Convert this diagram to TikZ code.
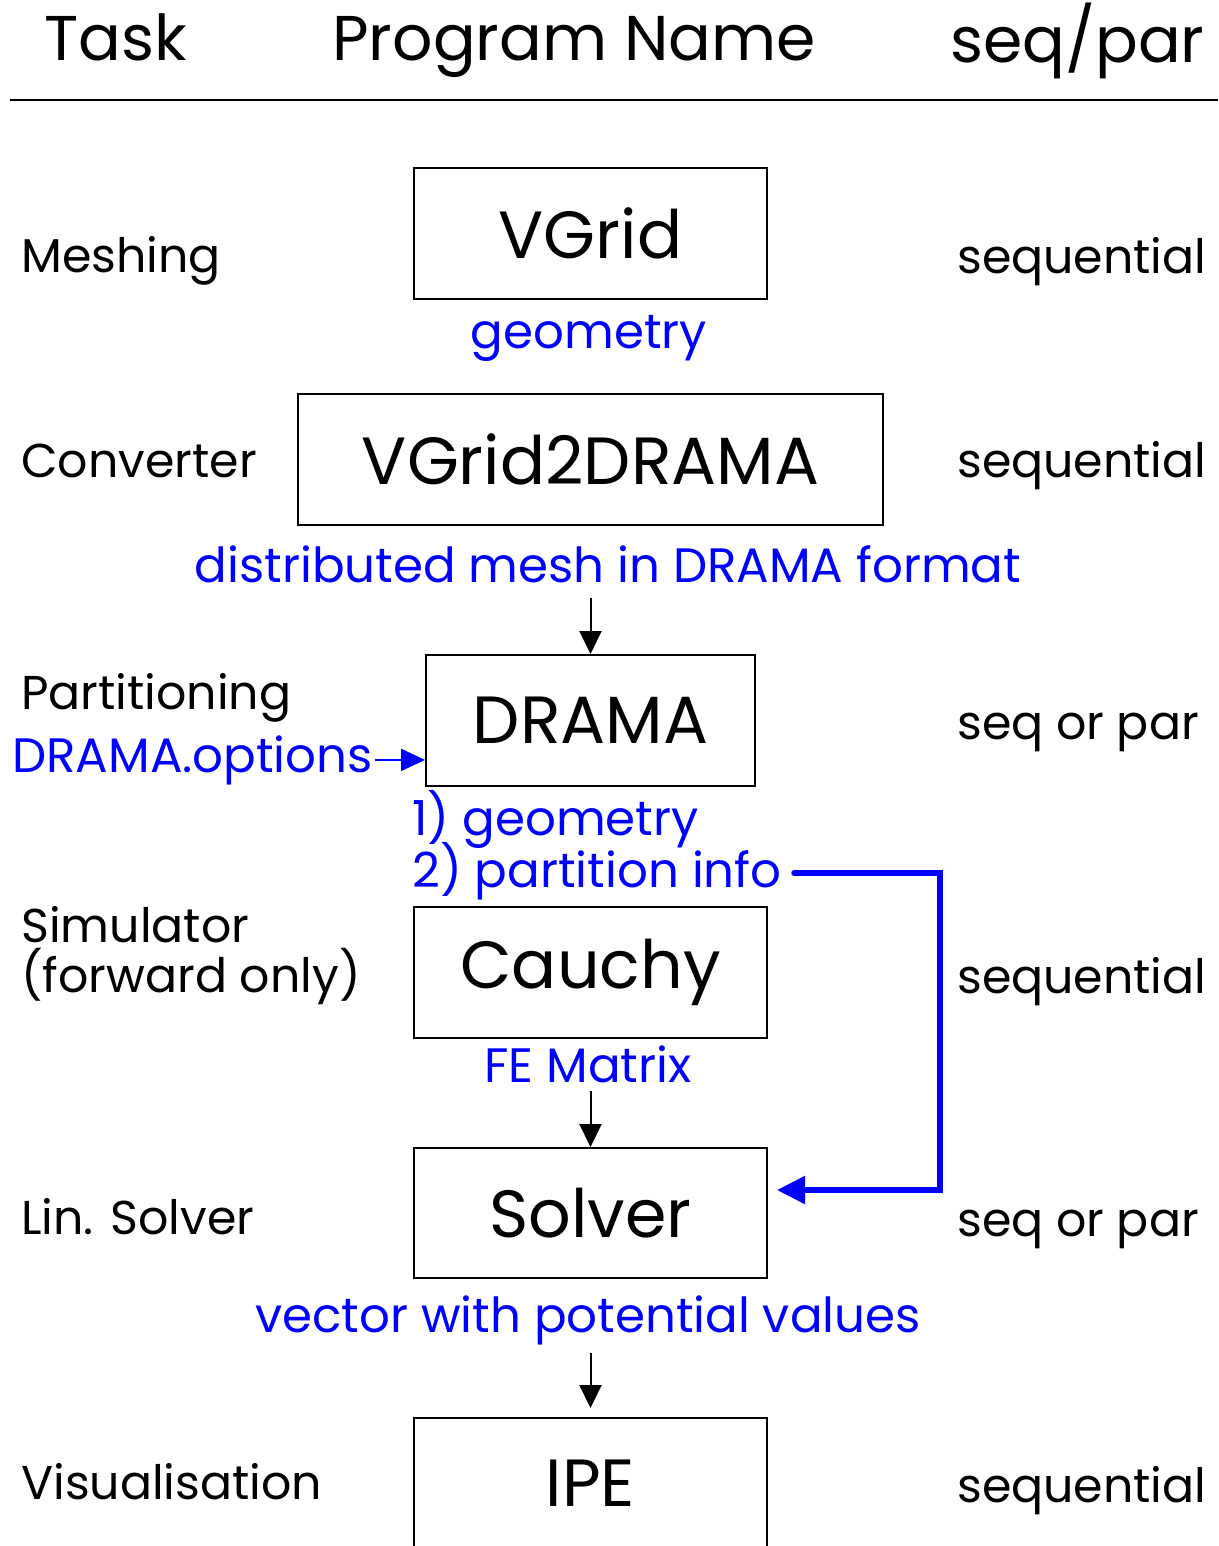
\documentclass[tikz,border=0pt]{standalone}
\usepackage{fontspec}
\setmainfont{Poppins}
\usepackage{tikz}
\usetikzlibrary{positioning,arrows.meta,calc}
\definecolor{flowblue}{HTML}{0000FF}
\definecolor{flowink}{HTML}{000000}

\tikzset{
  prog/.style={draw=flowink,line width=0.04cm,minimum height=2.62cm,inner sep=0,font=\fontsize{38}{44}\selectfont},
  task/.style={anchor=base west,inner sep=0,font=\fontsize{27}{32}\selectfont},
  head/.style={anchor=base west,inner sep=0,font=\fontsize{36}{42}\selectfont},
  data/.style={text=flowblue,anchor=base,inner sep=0,font=\fontsize{27.5}{33}\selectfont},
  flow/.style={-{Triangle[length=0.46cm,width=0.44cm]},line width=0.04cm},
  feed/.style={flowblue,line width=0.11cm,line cap=round,-{Triangle[length=0.56cm,width=0.54cm]}},
}

\begin{document}
\begin{tikzpicture}[x=0.02cm,y=-0.02cm]
  \useasboundingbox (0,0) rectangle (1218,1546);
  % header
  \node[head] (h-task) at (44,60) {Task};
  \node[head] (h-prog) at (332,60) {Program Name};
  \node[head] (h-mode) at (950,62) {seq/par};
  \draw[line width=0.04cm] (10,100) -- (1218,100);
  % tasks and seq/par column
  \foreach \n/\y/\lab in {mesh/272/Meshing, conv/477/Converter, part/709/Partitioning,
      sim/942/Simulator, fwd/992/{(forward only)}, lin/1234/{Lin. Solver}, vis/1499/Visualisation}
    {\node[task] (task-\n) at (21,\y) {\lab};}
  \foreach \n/\y/\lab in {mesh/273/sequential, conv/477/sequential, part/739/{seq or par},
      sim/993/sequential, lin/1236/{seq or par}, vis/1502/sequential}
    {\node[task] (mode-\n) at (957,\y) {\lab};}
  % programs
  \node[prog,minimum width=7.06cm] (vgrid) at (590.5,233.5) {VGrid};
  \node[prog,minimum width=11.7cm] (conv) at (590.5,459.5) {VGrid2DRAMA};
  \node[prog,minimum width=6.58cm] (drama) at (590.5,720.5) {DRAMA};
  \node[prog,minimum width=7.06cm] (cauchy) at (590.5,972.5) {Cauchy};
  \node[prog,minimum width=7.06cm,minimum height=2.6cm] (solver) at (590.5,1213) {Solver};
  \node[prog,minimum width=7.06cm] (ipe) at (590.5,1483.5) {IPE};
  % data passed between programs
  \node[data] (d-geom) at (589,348) {geometry};
  \node[data] (d-mesh) at (608,582) {distributed mesh in DRAMA format};
  \node[data,anchor=base west] (d-opts) at (12,772) {DRAMA.options};
  \node[data,anchor=base west] (d-geo1) at (412,835) {1) geometry};
  \node[data,anchor=base west] (d-pinfo) at (412,887) {2) partition info};
  \node[data] (d-fem) at (588,1082) {FE Matrix};
  \node[data] (d-vec) at (588,1332) {vector with potential values};
  % connectors
  \draw[flow,shorten <=0.3cm] (drama.north |- d-mesh.south) -- (drama.north);
  \draw[flow,shorten <=0.16cm] (solver.north |- d-fem.south) -- (solver.north);
  \draw[flow,shorten <=0.16cm,shorten >=0.18cm] (ipe.north |- d-vec.south) -- (ipe.north);
  \draw[flowblue,line width=0.04cm,-{Triangle[length=0.48cm,width=0.44cm]},shorten <=0.04cm]
    (d-opts.east) -- (drama.west |- d-opts.east);
  \coordinate (fb-start) at (794,873);
  \coordinate (fb-turn) at (940,873);
  \coordinate (fb-end) at (777,1190);
  \draw[feed] (fb-start) -- (fb-turn) |- (fb-end);
\end{tikzpicture}
\end{document}
